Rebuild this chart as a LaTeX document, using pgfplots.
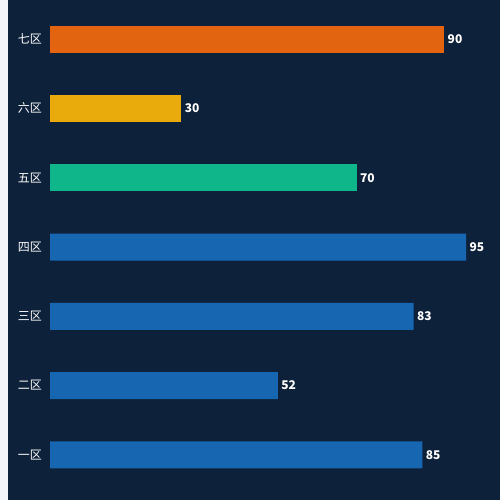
\documentclass[border=0pt]{standalone}
\usepackage{pgfplots}
\pgfplotsset{compat=1.18}
\usepackage{fontspec}
\setmainfont{Noto Sans CJK SC}
\definecolor{navy}{HTML}{0E213A}
\definecolor{strip}{HTML}{F2F4F9}
\definecolor{cblue}{HTML}{1766B2}
\definecolor{cgreen}{HTML}{0EB68A}
\definecolor{cyellow}{HTML}{E9AB0B}
\definecolor{corange}{HTML}{E26410}
\begin{document}
\begin{tikzpicture}
\useasboundingbox (0,0) rectangle (500pt,-500pt);
\fill[strip] (0,0) rectangle (8pt,-500pt);
\fill[navy] (8pt,0) rectangle (500pt,-500pt);
\begin{axis}[
  at={(50pt,-489.5pt)}, anchor=south west,
  scale only axis, width=438pt, height=485pt,
  xmin=0, xmax=100, ymin=0.5, ymax=7.5,
  /pgf/number format/assume math mode=true,
  axis line style={draw=none},
  major tick style={draw=none},
  xtick=\empty,
  ytick={1,2,3,4,5,6,7},
  yticklabels={一区,二区,三区,四区,五区,六区,七区},
  y tick label style={text=white, font=\fontsize{12}{14}\selectfont, inner sep=0pt, xshift=-8pt},
  bar width=27pt,
  every node near coord/.style={text=white, font=\fontsize{12}{14}\selectfont\bfseries},
]
\addplot[xbar, bar shift=0pt, fill=cblue, draw=none, nodes near coords] coordinates {(85,1) (52,2) (83,3) (95,4)};
\addplot[xbar, bar shift=0pt, fill=cgreen, draw=none, nodes near coords] coordinates {(70,5)};
\addplot[xbar, bar shift=0pt, fill=cyellow, draw=none, nodes near coords] coordinates {(30,6)};
\addplot[xbar, bar shift=0pt, fill=corange, draw=none, nodes near coords] coordinates {(90,7)};
\end{axis}
\end{tikzpicture}
\end{document}
